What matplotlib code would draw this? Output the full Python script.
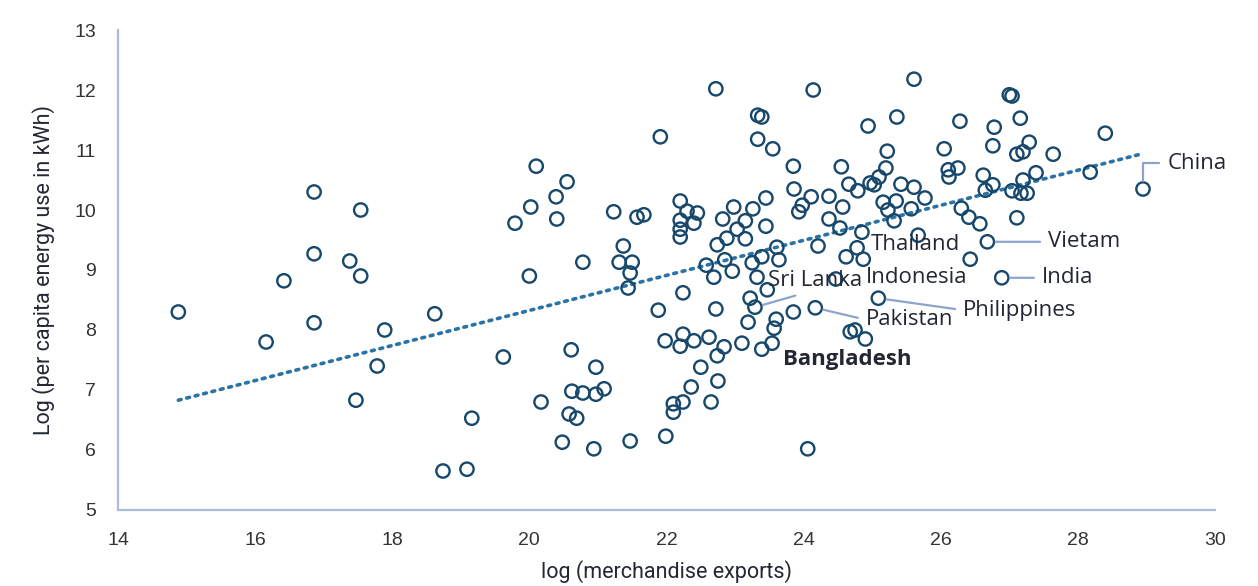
import matplotlib
matplotlib.use("Agg")
import matplotlib.pyplot as plt

# log merchandise exports vs log per-capita energy use, one circle per country
exports = [
    14.88, 16.16, 16.42, 16.86, 16.86, 16.86, 17.38, 17.54, 17.54, 17.47,
    17.89, 17.78, 18.62, 18.74, 19.09, 19.16, 19.62, 19.79, 20.02, 20.10,
    20.00, 20.40, 20.39, 20.55, 20.17, 20.61, 20.62, 20.48, 20.58, 20.69,
    20.78, 20.97, 21.09, 20.97, 20.94, 20.78, 21.23, 21.31, 21.37, 21.50,
    21.47, 21.44, 21.47, 21.57, 21.67, 21.91, 22.72, 21.88, 21.98, 21.99,
    22.20, 22.30, 22.45, 22.20, 22.40, 22.20, 22.20, 22.24, 22.24, 22.20,
    22.40, 22.36, 22.50, 22.10, 22.24, 22.10, 22.58, 22.62, 22.65, 22.69,
    22.72, 22.74, 22.74, 22.75, 22.82, 22.85, 22.88, 22.96, 22.98, 23.03,
    23.15, 23.15, 23.26, 23.45, 23.45, 22.84, 23.10, 23.33, 23.39, 23.33,
    23.55, 23.85, 23.86, 24.11, 24.37, 23.98, 23.93, 23.61, 23.25, 23.39,
    23.64, 23.32, 23.47, 23.22, 23.29, 23.19, 23.60, 23.57, 23.54, 23.39,
    23.85, 24.17, 24.21, 24.47, 24.68, 24.75, 24.90, 25.09, 24.14, 24.55,
    24.57, 24.37, 24.53, 24.66, 24.79, 24.85, 24.78, 24.62, 24.87, 24.94,
    24.97, 25.03, 25.10, 25.20, 25.22, 25.16, 25.35, 25.23, 25.32, 25.36,
    25.42, 25.57, 25.61, 25.61, 25.67, 25.77, 26.05, 26.11, 26.25, 26.12,
    26.28, 26.30, 26.41, 26.43, 26.57, 26.62, 26.65, 26.76, 26.68, 26.89,
    26.76, 26.78, 27.00, 27.04, 27.04, 27.11, 27.16, 27.11, 27.20, 27.20,
    27.17, 27.26, 27.29, 27.39, 27.64, 28.18, 28.40, 28.95, 24.06,
]
energy = [
    8.30, 7.80, 8.82, 10.30, 9.27, 8.12, 9.15, 10.00, 8.90, 6.83,
    8.00, 7.40, 8.27, 5.65, 5.68, 6.53, 7.55, 9.78, 10.05, 10.73,
    8.90, 9.85, 10.22, 10.47, 6.80, 7.67, 6.98, 6.13, 6.60, 6.53,
    6.95, 6.93, 7.02, 7.38, 6.02, 9.13, 9.97, 9.13, 9.40, 9.13,
    8.95, 8.70, 6.15, 9.88, 9.92, 11.22, 12.02, 8.33, 7.82, 6.23,
    10.15, 9.98, 9.95, 9.83, 9.78, 9.68, 9.55, 8.62, 7.93, 7.73,
    7.82, 7.05, 7.38, 6.77, 6.80, 6.63, 9.08, 7.88, 6.80, 8.88,
    8.35, 9.42, 7.57, 7.15, 9.85, 9.17, 9.53, 8.98, 10.05, 9.68,
    9.82, 9.52, 10.02, 10.20, 9.73, 7.72, 7.78, 11.58, 11.55, 11.18,
    11.02, 10.73, 10.35, 10.22, 10.23, 10.08, 9.97, 9.38, 9.12, 9.22,
    9.17, 8.88, 8.67, 8.53, 8.38, 8.13, 8.18, 8.03, 7.78, 7.68,
    8.30, 8.37, 9.40, 8.85, 7.97, 8.00, 7.85, 8.53, 12.00, 10.72,
    10.05, 9.85, 9.70, 10.43, 10.32, 9.63, 9.37, 9.22, 9.18, 11.40,
    10.45, 10.42, 10.55, 10.70, 10.98, 10.13, 10.15, 10.00, 9.82, 11.55,
    10.43, 10.02, 10.38, 12.18, 9.58, 10.20, 11.02, 10.67, 10.70, 10.55,
    11.48, 10.03, 9.88, 9.18, 9.77, 10.58, 10.33, 10.42, 9.47, 8.87,
    11.07, 11.38, 11.92, 11.90, 10.32, 9.87, 11.53, 10.93, 10.97, 10.50,
    10.28, 10.28, 11.13, 10.62, 10.93, 10.63, 11.28, 10.35, 6.02,
]

# fitted trend, start and end of the dotted line
trend_x = [14.88, 28.88]
trend_y = [6.83, 10.92]

# labelled countries: point, label position
label_names = ["China", "Vietam", "India", "Philippines", "Pakistan", "Sri Lanka"]
label_points = [(28.95, 10.35), (26.68, 9.47), (26.89, 8.87),
                (25.09, 8.53), (24.17, 8.37), (23.29, 8.38)]
label_text_pos = [(29.31, 10.78), (27.57, 9.47), (27.48, 8.87),
                  (26.33, 8.33), (24.91, 8.17), (23.48, 8.82)]

# labels drawn without a leader line
plain_names = ["Thailand", "Indonesia", "Bangladesh"]
plain_pos = [(24.98, 9.42), (24.91, 8.88), (23.70, 7.50)]

circle_col = "#17486c"
trend_col = "#2b73a6"
leader_col = "#8ea3cc"
axis_col = "#a8bedb"
text_col = "#222733"

fig = plt.figure(figsize=(12.58, 5.86), dpi=100)
ax = fig.add_axes([0.0938, 0.1297, 0.8720, 0.8191])

ax.scatter(exports, energy, s=92, facecolors="none", edgecolors=circle_col,
           linewidths=1.7, zorder=3)
ax.plot(trend_x, trend_y, color=trend_col, lw=2.6, linestyle=(0, (0.8, 1.6)),
        dash_capstyle="round", zorder=2)

label_font = ["Open Sans", "DejaVu Sans"]
for name, pt, pos in zip(label_names, label_points, label_text_pos):
    if name == "China":
        conn = "angle,angleA=0,angleB=90,rad=0"
        rel = (0, 0.5)
    elif name == "Sri Lanka":
        conn = "arc3"
        rel = (0.45, 0)
    else:
        conn = "arc3"
        rel = (0, 0.5)
    ax.annotate(name, xy=pt, xytext=pos, ha="left", va="center",
                fontsize=16, family=label_font, color=text_col, zorder=4,
                arrowprops=dict(arrowstyle="-", color=leader_col, lw=1.6,
                                shrinkA=4, shrinkB=6, relpos=rel,
                                connectionstyle=conn))

for name, pos in zip(plain_names, plain_pos):
    ax.text(pos[0], pos[1], name, ha="left", va="center", fontsize=16,
            family=label_font, color=text_col, zorder=4,
            fontweight="bold" if name == "Bangladesh" else "normal")

ax.set_xlim(14, 30)
ax.set_ylim(5, 13)
ax.set_xticks(range(14, 31, 2))
ax.set_yticks(range(5, 14))

for side in ["top", "right"]:
    ax.spines[side].set_visible(False)
for side in ["left", "bottom"]:
    ax.spines[side].set_color(axis_col)
    ax.spines[side].set_linewidth(1.6)

ax.tick_params(length=0, pad=16, labelsize=14, labelcolor="#333333")
for lab in ax.get_xticklabels() + ax.get_yticklabels():
    lab.set_family(["Liberation Sans", "DejaVu Sans"])

narrow = ["Liberation Sans Narrow", "Roboto", "DejaVu Sans"]
ax.set_xlabel("log (merchandise exports)", fontsize=15.5, family=narrow,
              color=text_col, labelpad=8)
ax.set_ylabel("Log (per capita energy use in kWh)", fontsize=15.5, family=narrow,
              color=text_col, labelpad=14)

fig.savefig("out.png", dpi=100)
